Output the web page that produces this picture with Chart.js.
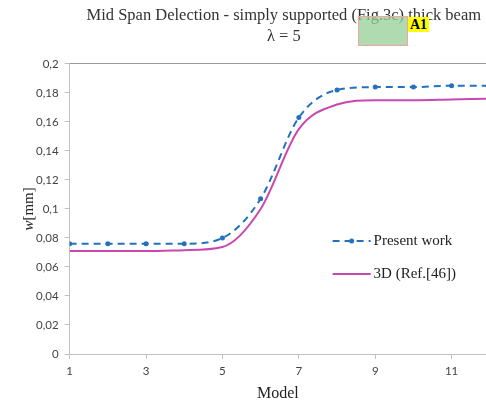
<!DOCTYPE html>
<html>
<head>
<meta charset="utf-8">
<script src="https://cdn.jsdelivr.net/npm/chart.js@4/dist/chart.umd.min.js"></script>
<style>
  body { margin: 0; background: #fff; overflow: hidden; }
  #wrap { position: relative; width: 486px; height: 406px; overflow: hidden; }
  #box { position: absolute; left: 358px; top: 16px; width: 48px; height: 28px;
         background: rgba(150, 205, 150, 0.75); border: 1px solid #f3a3a3; }
  #tag { position: absolute; left: 408px; top: 17px; padding: 0 2px; background: #ffff00;
         font: bold 14px "Liberation Serif", serif; line-height: 15px; color: #000; }
</style>
</head>
<body>
<div id="wrap">
  <canvas id="chart" width="490" height="406"></canvas>
  <div id="box"></div>
  <div id="tag">A1</div>
</div>
<script>
const models = [1, 2, 3, 4, 5, 6, 7, 8, 9, 10, 11, 12];
const presentWork = [0.076, 0.076, 0.076, 0.076, 0.080, 0.107, 0.163, 0.182, 0.184, 0.184, 0.185, 0.185];
const ref3D = [0.071, 0.071, 0.071, 0.0716, 0.0738, 0.100, 0.155, 0.172, 0.175, 0.175, 0.1755, 0.176];
const xTicks = [1, 3, 5, 7, 9, 11];

const blue = '#2471bd';
const magenta = '#c848b0';

// y title with italic "w" and the legend inside the plot
const extras = {
    id: 'extras',
    afterLayout(chart) {
        // title sits a little right of the plot centre in the original
        chart.titleBlock.left += 6;
        chart.titleBlock.right += 6;
    },
    afterDraw(chart) {
        const ctx = chart.ctx;
        const a = chart.chartArea;
        ctx.save();
        ctx.translate(a.left - 41, (a.top + a.bottom) / 2);
        ctx.rotate(-Math.PI / 2);
        ctx.fillStyle = '#222';
        ctx.textBaseline = 'middle';
        ctx.font = 'italic 15px "Liberation Serif"';
        const w1 = ctx.measureText('w').width;
        ctx.font = '15px "Liberation Serif"';
        const w2 = ctx.measureText('[mm]').width;
        let x = -(w1 + w2) / 2;
        ctx.font = 'italic 15px "Liberation Serif"';
        ctx.fillText('w', x, 0);
        ctx.font = '15px "Liberation Serif"';
        ctx.fillText('[mm]', x + w1, 0);
        ctx.restore();

        chart.data.datasets.forEach((ds, i) => {
            const y = a.top + 177 + i * 33;
            const x0 = a.left + 263, x1 = x0 + 38;
            ctx.save();
            ctx.strokeStyle = ds.borderColor;
            ctx.lineWidth = ds.borderWidth;
            ctx.setLineDash(ds.borderDash || []);
            ctx.beginPath();
            ctx.moveTo(x0, y);
            ctx.lineTo(x1, y);
            ctx.stroke();
            if (ds.pointRadius > 0) {
                ctx.setLineDash([]);
                ctx.fillStyle = ds.borderColor;
                ctx.beginPath();
                ctx.arc((x0 + x1) / 2, y, ds.pointRadius, 0, Math.PI * 2);
                ctx.fill();
            }
            ctx.fillStyle = '#222';
            ctx.font = '15px "Liberation Serif"';
            ctx.textBaseline = 'middle';
            ctx.fillText(ds.label, x1 + 3, y);
            ctx.restore();
        });
    }
};

new Chart(document.getElementById('chart'), {
    type: 'line',
    data: {
        datasets: [{
            label: 'Present work',
            data: models.map((m, i) => ({ x: m, y: presentWork[i] })),
            borderColor: blue,
            backgroundColor: blue,
            borderWidth: 2,
            borderDash: [7, 5],
            pointRadius: 2.5,
            pointBorderWidth: 0,
            cubicInterpolationMode: 'monotone'
        }, {
            label: '3D (Ref.[46])',
            data: models.map((m, i) => ({ x: m, y: ref3D[i] })),
            borderColor: magenta,
            backgroundColor: magenta,
            borderWidth: 2,
            pointRadius: 0,
            cubicInterpolationMode: 'monotone'
        }]
    },
    options: {
        responsive: false,
        animation: false,
        layout: { padding: { left: 6, right: 0, top: 5, bottom: 3 } },
        plugins: {
            legend: { display: false },
            tooltip: { enabled: false },
            title: {
                display: true,
                fullSize: false,
                text: ['Mid Span Delection - simply supported (Fig.3c) thick beam', 'λ = 5'],
                color: '#333',
                font: { family: 'Liberation Serif', size: 16.5, weight: 'normal', lineHeight: 1.27 },
                padding: { top: 0, bottom: 17 }
            }
        },
        scales: {
            x: {
                type: 'linear',
                min: 1,
                max: 11.9,
                afterBuildTicks: s => { s.ticks = xTicks.map(v => ({ value: v })); },
                grid: { drawOnChartArea: false, color: '#c0c0c0', tickLength: 5 },
                border: { color: '#c0c0c0' },
                ticks: { color: '#444', font: { family: 'Lato', size: 11.5 }, padding: 5, maxRotation: 0 },
                title: { display: true, text: 'Model', color: '#222',
                         font: { family: 'Liberation Serif', size: 16 }, padding: { top: 1, bottom: 0 } }
            },
            y: {
                min: 0,
                max: 0.2,
                ticks: {
                    stepSize: 0.02,
                    color: '#444',
                    font: { family: 'Lato', size: 11.5 },
                    padding: 6,
                    callback: v => String(Number(v.toFixed(2))).replace('.', ',')
                },
                grid: {
                    color: c => (c.tick && Math.abs(c.tick.value - 0.2) < 1e-9) ? '#999' : 'transparent',
                    tickColor: '#c0c0c0',
                    tickLength: 5
                },
                border: { color: '#c0c0c0' },
                title: { display: true, text: 'w[mm]', color: 'transparent',
                         font: { family: 'Liberation Serif', size: 15 }, padding: { top: 0, bottom: 6 } }
            }
        }
    },
    plugins: [extras]
});
</script>
</body>
</html>
